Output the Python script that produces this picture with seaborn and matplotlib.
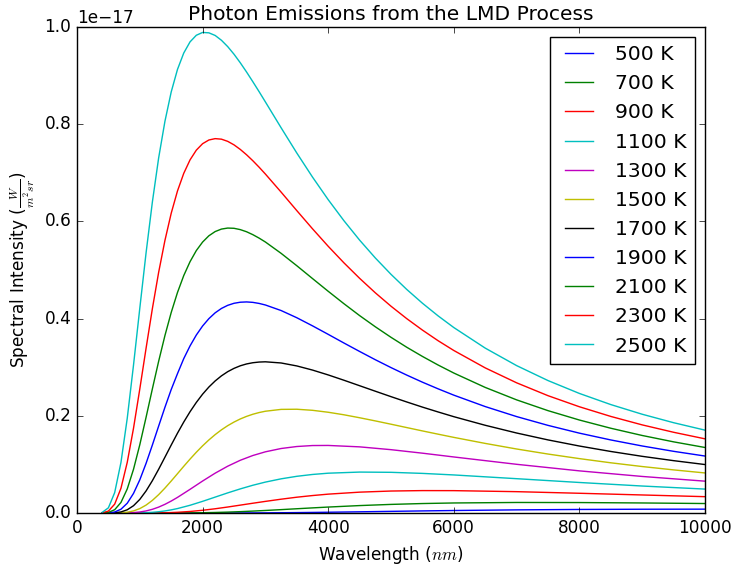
import matplotlib
matplotlib.use("Agg")
import matplotlib.pyplot as plt
import seaborn as sns
import pandas as pd

# Wavelength grid (nm) shared by all curves
wavelength = [400, 500, 600, 700, 800, 900, 1000, 1100, 1200, 1300, 1400, 1500, 1600,
              1800, 2000, 2200, 2400, 2600, 2800, 3000, 3250, 3500, 3750, 4000, 4500,
              5000, 5500, 6000, 7000, 8000, 9000, 10000]
# Extra wavelengths (nm) read for the taller curves (1500 K .. 2500 K)
wavelength_extra = [1700, 1900, 2100, 2300, 2500, 2700, 2900, 4250, 4750, 5250, 5750,
                    6500, 7500, 8500, 9500]

temperatures = [500, 700, 900, 1100, 1300, 1500, 1700, 1900, 2100, 2300, 2500]
labels = ["%d K" % t for t in temperatures]

# Spectral intensity, in units of 1e-17
i500 = [0, 0, 0, 0, 0, 0, 0, 0, 0, 0, 0, 0, 0, 0, 0.00001, 0.00003, 0.00006, 0.00012,
        0.00021, 0.00034, 0.00055, 0.00083, 0.00117, 0.00156, 0.00244, 0.00337, 0.00428,
        0.00512, 0.00644, 0.00730, 0.00775, 0.00791]
i700 = [0, 0, 0, 0, 0, 0, 0, 0, 0, 0.00001, 0.00002, 0.00004, 0.00009, 0.00025, 0.00057,
        0.00109, 0.00183, 0.00278, 0.00392, 0.00520, 0.00694, 0.00874, 0.01052, 0.01223,
        0.01528, 0.01769, 0.01946, 0.02064, 0.02167, 0.02149, 0.02065, 0.01948]
i900 = [0, 0, 0, 0, 0, 0, 0.00002, 0.00005, 0.00013, 0.00028, 0.00053, 0.00092, 0.00148,
        0.00316, 0.00560, 0.00871, 0.0123, 0.0162, 0.0201, 0.0239, 0.0284, 0.0325, 0.0359,
        0.0388, 0.0429, 0.0452, 0.0461, 0.0460, 0.0439, 0.0406, 0.0371, 0.0336]
i1100 = [0, 0, 0, 0, 0.00002, 0.00009, 0.00028, 0.00068, 0.00142, 0.00258, 0.00424,
         0.00642, 0.00912, 0.0159, 0.0240, 0.0327, 0.0414, 0.0496, 0.0571, 0.0636, 0.0703,
         0.0755, 0.0793, 0.0819, 0.0842, 0.0837, 0.0815, 0.0783, 0.0706, 0.0628, 0.0555,
         0.0492]
i1300 = [0, 0, 0.00001, 0.00005, 0.00025, 0.00083, 0.00207, 0.00425, 0.00758, 0.01212,
         0.01783, 0.02457, 0.03211, 0.04870, 0.06578, 0.08194, 0.09631, 0.1085, 0.1183,
         0.1259, 0.1327, 0.1368, 0.1388, 0.1390, 0.1361, 0.1303, 0.1231, 0.1153, 0.1002,
         0.0867, 0.0752, 0.0655]
i1500 = [0, 0.00001, 0.00007, 0.00043, 0.00161, 0.00428, 0.00906, 0.01628, 0.02594,
         0.03774, 0.05121, 0.06578, 0.08089, 0.1109, 0.1382, 0.1613, 0.1797, 0.1935,
         0.2032, 0.2094, 0.2132, 0.2135, 0.2113, 0.2073, 0.1960, 0.1827, 0.1689, 0.1556,
         0.1317, 0.1119, 0.0956, 0.0824]
i1700 = [0, 0.00005, 0.00046, 0.00217, 0.00659, 0.0150, 0.0280, 0.04542, 0.06647, 0.0900,
         0.1148, 0.1398, 0.1642, 0.2084, 0.2445, 0.2717, 0.2908, 0.3029, 0.3092, 0.3111,
         0.3087, 0.3026, 0.2941, 0.2841, 0.2619, 0.2394, 0.2179, 0.1982, 0.1646, 0.1378,
         0.1166, 0.0997]
i1900 = [0.00001, 0.00028, 0.00203, 0.00775, 0.02007, 0.04036, 0.06828, 0.1022, 0.1398,
         0.1788, 0.2174, 0.2540, 0.2867, 0.3438, 0.3848, 0.4119, 0.4273, 0.4337, 0.4334,
         0.4280, 0.4166, 0.4018, 0.3851, 0.3676, 0.3324, 0.2992, 0.2692, 0.2425, 0.1984,
         0.1643, 0.1379, 0.1172]
i2100 = [0.00008, 0.00119, 0.00675, 0.02172, 0.04946, 0.0900, 0.1405, 0.1970, 0.2553,
         0.3121, 0.3650, 0.4125, 0.4537, 0.5171, 0.5575, 0.5791, 0.5863, 0.5831, 0.5727,
         0.5576, 0.5343, 0.5088, 0.4824, 0.4562, 0.4062, 0.3615, 0.3222, 0.2880, 0.2328,
         0.1913, 0.1595, 0.1348]
i2300 = [0.00033, 0.00391, 0.01821, 0.05086, 0.1042, 0.1745, 0.2552, 0.3391, 0.4203,
         0.4951, 0.5607, 0.6167, 0.6626, 0.7266, 0.7599, 0.7703, 0.7647, 0.7481, 0.7248,
         0.6974, 0.6603, 0.6222, 0.5848, 0.5488, 0.4829, 0.4255, 0.3764, 0.3344, 0.2679,
         0.2186, 0.1813, 0.1526]
i2500 = [0.00117, 0.01064, 0.04194, 0.1040, 0.1948, 0.3045, 0.4214, 0.5355, 0.6397,
         0.7305, 0.8058, 0.8663, 0.9127, 0.9694, 0.9888, 0.9826, 0.9596, 0.9264, 0.8874,
         0.8458, 0.7927, 0.7407, 0.6912, 0.6447, 0.5615, 0.4911, 0.4317, 0.3816, 0.3033,
         0.2460, 0.2032, 0.1705]

# Extra readings at wavelength_extra (units of 1e-17)
e1500 = [0.0961, 0.1250, 0.1503, 0.1711, 0.1871, 0.1988, 0.2067, 0.2021, 0.1895, 0.1758,
         0.1622, 0.1432, 0.1213, 0.1033, 0.0887]
e1700 = [0.1872, 0.2275, 0.2592, 0.2822, 0.2976, 0.3067, 0.3106, 0.2732, 0.2506, 0.2285,
         0.2079, 0.1805, 0.1504, 0.1266, 0.1077]
e1900 = [0.3177, 0.3662, 0.3999, 0.4209, 0.4315, 0.4343, 0.4312, 0.3498, 0.3154, 0.2838,
         0.2555, 0.2190, 0.1803, 0.1503, 0.1269]
e2100 = [0.4886, 0.5400, 0.5704, 0.5842, 0.5858, 0.5787, 0.5656, 0.4307, 0.3832, 0.3411,
         0.3045, 0.2584, 0.2106, 0.1744, 0.1464]
e2300 = [0.6989, 0.7466, 0.7675, 0.7692, 0.7575, 0.7371, 0.7115, 0.5148, 0.4531, 0.4000,
         0.3545, 0.2986, 0.2414, 0.1987, 0.1661]
e2500 = [0.9465, 0.9830, 0.9880, 0.9727, 0.9440, 0.9074, 0.8669, 0.6015, 0.5248, 0.4601,
         0.4056, 0.3393, 0.2725, 0.2231, 0.1858]

series = [i500, i700, i900, i1100, i1300, i1500, i1700, i1900, i2100, i2300, i2500]
extras = {"1500 K": e1500, "1700 K": e1700, "1900 K": e1900, "2100 K": e2100,
          "2300 K": e2300, "2500 K": e2500}

rows = []
for lab, vals in zip(labels, series):
    for w, v in zip(wavelength, vals):
        rows.append({"Wavelength": w, "Intensity": v * 1e-17, "Temperature": lab})
    if lab in extras:
        for w, v in zip(wavelength_extra, extras[lab]):
            rows.append({"Wavelength": w, "Intensity": v * 1e-17, "Temperature": lab})
df = pd.DataFrame(rows).sort_values(["Temperature", "Wavelength"])

plt.style.use("classic")
plt.rcParams["mathtext.fontset"] = "cm"
plt.rcParams["font.family"] = ["DejaVu Sans"]

classic_cycle = [(0, 0, 1), (0, 0.5, 0), (1, 0, 0), (0, 0.75, 0.75), (0.75, 0, 0.75),
                 (0.75, 0.75, 0), (0, 0, 0)]
palette = [classic_cycle[i % len(classic_cycle)] for i in range(len(labels))]

DPI = 101.3
fig = plt.figure(figsize=(733 / DPI, 565 / DPI), dpi=DPI)
fig.patch.set_facecolor("white")
ax = fig.add_axes([77 / 733, 52 / 565, 628 / 733, 486 / 565])

sns.lineplot(data=df, x="Wavelength", y="Intensity", hue="Temperature",
             hue_order=labels, palette=palette, linewidth=1.0, errorbar=None,
             sort=True, ax=ax, legend=True)

ax.set_xlim(0, 10000)
ax.set_ylim(0, 1e-17)
ax.set_xticks([0, 2000, 4000, 6000, 8000, 10000])
ax.set_yticks([0, 0.2e-17, 0.4e-17, 0.6e-17, 0.8e-17, 1.0e-17])
ax.set_title("Photon Emissions from the LMD Process", fontsize=14.4)
ax.set_xlabel("Wavelength ($nm$)", fontsize=12)
ax.set_ylabel(r"Spectral Intensity ($\frac{W}{m^2 sr}$)", fontsize=12)

handles, labs = ax.get_legend_handles_labels()
leg = ax.legend(handles, labs, loc="upper right", fontsize=14.4, labelspacing=0.5,
                fancybox=False, framealpha=1.0)
leg.get_frame().set_edgecolor("black")

fig.savefig("out.png", dpi=DPI, facecolor="white")
